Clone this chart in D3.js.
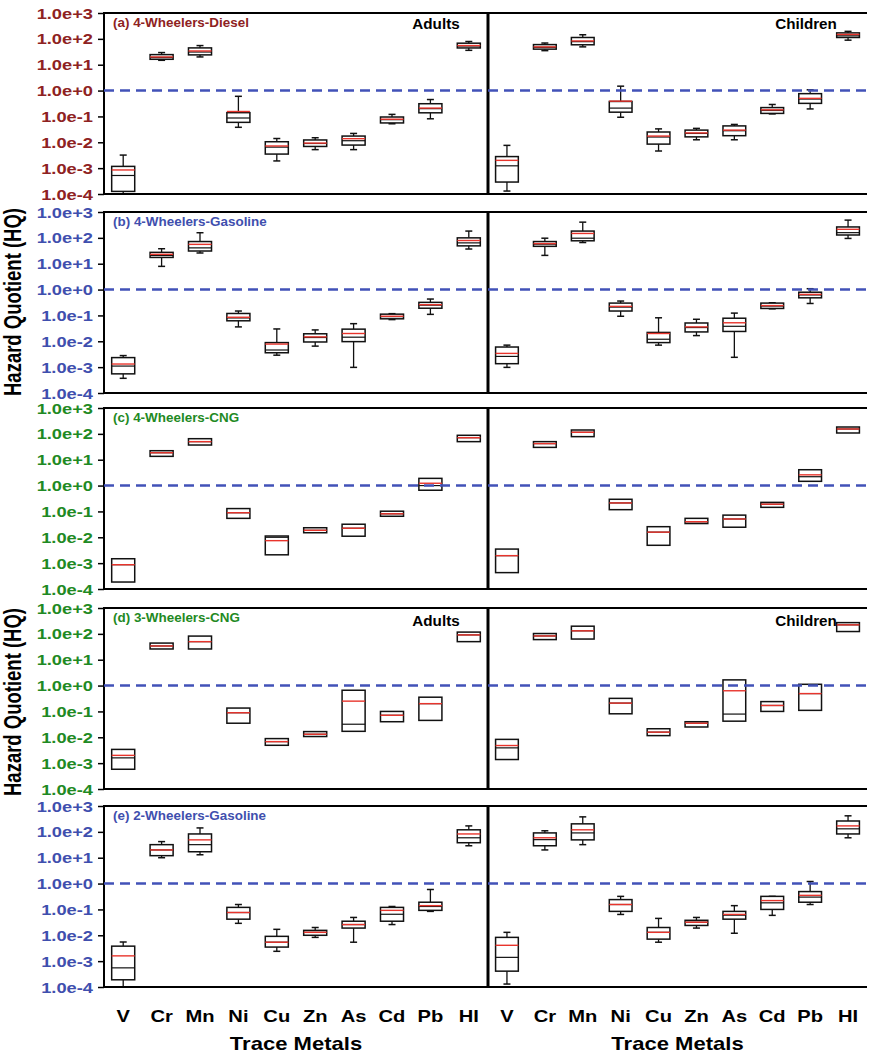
<!DOCTYPE html>
<html>
<head>
<meta charset="utf-8">
<script src="https://cdn.jsdelivr.net/npm/d3@7"></script>
<style>
  html, body { margin: 0; padding: 0; background: #fff; }
  svg { display: block; }
  text { font-family: "Liberation Sans", Arial, sans-serif; font-weight: bold; }
</style>
</head>
<body>
<svg id="chart" width="870" height="1056"></svg>
<script>
// Trace metals on the x axis
const metals = ["V", "Cr", "Mn", "Ni", "Cu", "Zn", "As", "Cd", "Pb", "HI"];

// Hazard quotient axis
const tickValues = [1e-4, 1e-3, 1e-2, 1e-1, 1e0, 1e1, 1e2, 1e3];
const tickLabels = ["1.0e-4", "1.0e-3", "1.0e-2", "1.0e-1", "1.0e+0", "1.0e+1", "1.0e+2", "1.0e+3"];
const safeLimit = 1;

// Panel titles
const panelTitles = [
  "(a) 4-Wheelers-Diesel",
  "(b) 4-Wheelers-Gasoline",
  "(c) 4-Wheelers-CNG",
  "(d) 3-Wheelers-CNG",
  "(e) 2-Wheelers-Gasoline"
];
const groupLabels = ["Adults", "Children"];

// Each row: [whisker low, Q1, median, Q3, whisker high, mean]; null = no whisker
const dieselAdults = [
  [1.0e-4, 1.26e-4, 5.2e-4, 1.17e-3, 3.2e-3, 8.5e-4],
  [14.8, 16.2, 19, 24.6, 29.5, 20],
  [20, 24, 31, 44.7, 55, 34],
  [0.038, 0.059, 0.087, 0.14, 0.6, 0.155],
  [0.0019, 0.0035, 0.0065, 0.0105, 0.014, 0.0072],
  [0.0052, 0.0069, 0.009, 0.0123, 0.015, 0.0093],
  [0.0052, 0.0078, 0.0115, 0.0174, 0.022, 0.0138],
  [0.052, 0.056, 0.075, 0.095, 0.12, 0.078],
  [0.081, 0.138, 0.2, 0.31, 0.45, 0.21],
  [36, 44.5, 53, 68, 79, 55]
];
const dieselChildren = [
  [1.3e-4, 2.9e-4, 1.23e-3, 2.8e-3, 7.6e-3, 2.0e-3],
  [35, 40, 47, 60, 69, 49],
  [49, 59, 78, 113, 144, 83],
  [0.093, 0.146, 0.21, 0.38, 1.48, 0.39],
  [0.0046, 0.0085, 0.016, 0.025, 0.033, 0.0174],
  [0.0125, 0.0162, 0.022, 0.0296, 0.0345, 0.023],
  [0.0125, 0.018, 0.028, 0.043, 0.049, 0.0296],
  [0.125, 0.131, 0.17, 0.22, 0.29, 0.18],
  [0.195, 0.32, 0.47, 0.76, 1.07, 0.50],
  [89, 113, 131, 170, 195, 148]
];
const gasolineAdults = [
  [3.7e-4, 5.5e-4, 1.1e-3, 2.34e-3, 2.8e-3, 1.32e-3],
  [7.9, 17.5, 21, 27.5, 38, 23],
  [26, 31, 41, 72, 158, 56],
  [0.036, 0.062, 0.08, 0.119, 0.148, 0.085],
  [0.0029, 0.0036, 0.0046, 0.0089, 0.030, 0.0078],
  [0.0065, 0.0094, 0.014, 0.0195, 0.0275, 0.0148],
  [9.8e-4, 0.0097, 0.0144, 0.0295, 0.048, 0.020],
  [0.069, 0.074, 0.09, 0.112, 0.117, 0.093],
  [0.11, 0.19, 0.25, 0.32, 0.43, 0.26],
  [37, 49, 64, 100, 183, 79]
];
const gasolineChildren = [
  [9.8e-4, 1.36e-3, 2.6e-3, 6.0e-3, 7.1e-3, 3.4e-3],
  [21, 47, 57, 72, 97, 60],
  [66, 77, 97, 183, 405, 148],
  [0.093, 0.148, 0.21, 0.30, 0.36, 0.224],
  [0.0071, 0.0089, 0.012, 0.022, 0.081, 0.020],
  [0.0166, 0.023, 0.034, 0.051, 0.071, 0.036],
  [0.0024, 0.024, 0.038, 0.078, 0.123, 0.052],
  [0.18, 0.186, 0.23, 0.30, 0.31, 0.24],
  [0.29, 0.48, 0.62, 0.79, 1.08, 0.65],
  [95, 129, 159, 264, 486, 214]
];
const cng4wAdults = [
  [null, 1.86e-4, 8.7e-4, 1.48e-3, null, 8.7e-4],
  [null, 13.5, 18.6, 22.3, null, 18.6],
  [null, 37, 50, 65, null, 50],
  [null, 0.054, 0.089, 0.129, null, 0.089],
  [null, 0.0021, 0.0100, 0.0112, null, 0.0074],
  [null, 0.015, 0.0186, 0.0234, null, 0.0186],
  [null, 0.011, 0.0224, 0.032, null, 0.0224],
  [null, 0.065, 0.081, 0.102, null, 0.081],
  [null, 0.66, 1.0, 1.9, null, 1.23],
  [null, 50, 71, 88, null, 71]
];
const cng4wChildren = [
  [null, 4.3e-4, 1.95e-3, 3.5e-3, null, 1.95e-3],
  [null, 30, 42, 50, null, 42],
  [null, 78, 115, 141, null, 115],
  [null, 0.117, 0.213, 0.295, null, 0.213],
  [null, 0.0049, 0.0158, 0.0257, null, 0.0158],
  [null, 0.034, 0.040, 0.054, null, 0.040],
  [null, 0.0245, 0.051, 0.072, null, 0.051],
  [null, 0.144, 0.19, 0.224, null, 0.19],
  [null, 1.46, 2.2, 4.1, null, 2.6],
  [null, 108, 154, 184, null, 154]
];
const cng3wAdults = [
  [null, 5.8e-4, 1.6e-3, 3.4e-3, null, 2.0e-3],
  [null, 26, 34, 44, null, 34],
  [null, 26, 50, 82, null, 50],
  [null, 0.035, 0.089, 0.135, null, 0.089],
  [null, 0.0049, 0.0068, 0.0089, null, 0.0068],
  [null, 0.0107, 0.0131, 0.0166, null, 0.0131],
  [null, 0.017, 0.032, 0.66, null, 0.25],
  [null, 0.040, 0.071, 0.1, null, 0.071],
  [null, 0.045, 0.20, 0.355, null, 0.20],
  [null, 50, 91, 117, null, 91]
];
const cng3wChildren = [
  [null, 1.38e-3, 3.9e-3, 8.3e-3, null, 4.8e-3],
  [null, 60, 83, 103, null, 83],
  [null, 63, 131, 198, null, 131],
  [null, 0.081, 0.21, 0.32, null, 0.21],
  [null, 0.0116, 0.0158, 0.0214, null, 0.0158],
  [null, 0.025, 0.035, 0.040, null, 0.035],
  [null, 0.042, 0.079, 1.66, null, 0.63],
  [null, 0.10, 0.17, 0.24, null, 0.17],
  [null, 0.11, 0.49, 1.12, null, 0.49],
  [null, 123, 223, 272, null, 223]
];
const twoWheelAdults = [
  [1.0e-4, 1.9e-4, 5.5e-4, 3.8e-3, 5.5e-3, 1.6e-3],
  [10, 12, 20, 32, 42, 20],
  [13, 17, 32, 83, 142, 49],
  [0.029, 0.042, 0.076, 0.12, 0.155, 0.076],
  [0.0024, 0.0035, 0.0054, 0.0091, 0.017, 0.0054],
  [0.0083, 0.01, 0.013, 0.0155, 0.020, 0.013],
  [0.0054, 0.019, 0.026, 0.035, 0.049, 0.026],
  [0.026, 0.035, 0.065, 0.12, 0.13, 0.092],
  [0.084, 0.092, 0.13, 0.19, 0.59, 0.14],
  [29, 38, 59, 120, 170, 83]
];
const twoWheelChildren = [
  [1.3e-4, 4.1e-4, 1.4e-3, 8.3e-3, 0.013, 4.1e-3],
  [20, 29, 50, 91, 110, 59],
  [32, 49, 91, 204, 380, 120],
  [0.064, 0.084, 0.155, 0.24, 0.32, 0.155],
  [0.0054, 0.0071, 0.013, 0.020, 0.045, 0.013],
  [0.019, 0.024, 0.032, 0.038, 0.049, 0.032],
  [0.012, 0.042, 0.06, 0.084, 0.14, 0.064],
  [0.059, 0.10, 0.18, 0.32, 0.32, 0.22],
  [0.155, 0.19, 0.3, 0.49, 1.2, 0.35],
  [59, 83, 131, 263, 417, 170]
];

const rows = [
  [dieselAdults, dieselChildren],
  [gasolineAdults, gasolineChildren],
  [cng4wAdults, cng4wChildren],
  [cng3wAdults, cng3wChildren],
  [twoWheelAdults, twoWheelChildren]
];

// ---- layout & style ----
const DARKRED = "#8e2222", BLUE = "#3f4fae", GREEN = "#1f8a24";
const rowColors = [DARKRED, BLUE, GREEN, GREEN, BLUE];
const rowTops = [13, 212, 408, 608, 806];
const rowH = 181;
const colX = [[104, 488], [488, 867]];
const showGroupLabels = [true, false, false, true, false];
const SX = 1.26; // horizontal text stretch

const svg = d3.select("#chart");

function stretchedText(g, x, y, str, size, anchor, color, sx) {
  return g.append("text")
    .attr("transform", `translate(${x},${y}) scale(${sx},1)`)
    .attr("text-anchor", anchor)
    .attr("font-size", size)
    .attr("fill", color)
    .text(str);
}

rows.forEach((pair, r) => {
  const top = rowTops[r];
  const y = d3.scaleLog().domain([1e-4, 1e3]).range([top + rowH, top]).clamp(true);

  pair.forEach((data, c) => {
    const [x0, x1] = colX[c];
    const x = d3.scaleBand().domain(metals).range([x0, x1]).paddingInner(0.4).paddingOuter(0.2);
    const g = svg.append("g");

    // boxes
    const bw = x.bandwidth();
    const items = g.selectAll("g.box").data(data.map((d, i) => ({ m: metals[i], v: d })))
      .join("g").attr("class", "box");

    items.each(function (d) {
      const s = d3.select(this);
      const cx = x(d.m) + bw / 2;
      const [lo, q1, med, q3, hi, mean] = d.v;
      if (hi !== null) {
        s.append("line").attr("x1", cx).attr("x2", cx).attr("y1", y(q3)).attr("y2", y(hi))
          .attr("stroke", "#111").attr("stroke-width", 1.3);
        s.append("line").attr("x1", cx - 3.5).attr("x2", cx + 3.5).attr("y1", y(hi)).attr("y2", y(hi))
          .attr("stroke", "#111").attr("stroke-width", 1.5);
      }
      if (lo !== null) {
        s.append("line").attr("x1", cx).attr("x2", cx).attr("y1", y(q1)).attr("y2", y(lo))
          .attr("stroke", "#111").attr("stroke-width", 1.3);
        s.append("line").attr("x1", cx - 3.5).attr("x2", cx + 3.5).attr("y1", y(lo)).attr("y2", y(lo))
          .attr("stroke", "#111").attr("stroke-width", 1.5);
      }
      s.append("rect").attr("x", x(d.m)).attr("width", bw)
        .attr("y", y(q3)).attr("height", Math.max(1, y(q1) - y(q3)))
        .attr("fill", "#fff").attr("stroke", "#111").attr("stroke-width", 1.5);
      s.append("line").attr("x1", x(d.m)).attr("x2", x(d.m) + bw).attr("y1", y(med)).attr("y2", y(med))
        .attr("stroke", "#111").attr("stroke-width", 1.2);
      s.append("line").attr("x1", x(d.m)).attr("x2", x(d.m) + bw).attr("y1", y(mean)).attr("y2", y(mean))
        .attr("stroke", "#e8342c").attr("stroke-width", 1.4);
    });

    // frame
    if (c === 0) {
      g.append("rect").attr("x", x0).attr("y", top).attr("width", x1 - x0).attr("height", rowH)
        .attr("fill", "none").attr("stroke", "#000").attr("stroke-width", 2);
      const ax = g.append("g").attr("transform", `translate(${x0},0)`)
        .call(d3.axisLeft(y).tickValues(tickValues).tickSize(6).tickSizeOuter(0)
          .tickFormat((v, i) => tickLabels[i]));
      ax.select(".domain").remove();
      ax.selectAll(".tick line").attr("stroke", "#000").attr("stroke-width", 1.5);
      ax.selectAll(".tick text")
        .attr("x", null).attr("dy", null)
        .attr("transform", `translate(-11,5) scale(${SX},1)`)
        .attr("font-size", 14.5).attr("font-weight", "bold")
        .attr("font-family", "'Liberation Sans', Arial, sans-serif")
        .attr("fill", rowColors[r]);
    } else {
      g.append("path").attr("d", `M${x0},${top}H${x1}M${x0},${top}V${top + rowH}H${x1}`)
        .attr("fill", "none").attr("stroke", "#000").attr("stroke-width", 2);
      g.append("line").attr("x1", x0).attr("x2", x0).attr("y1", top).attr("y2", top + rowH)
        .attr("stroke", "#000").attr("stroke-width", 3);
    }

    if (showGroupLabels[r]) {
      const lx = c === 0 ? 436 : 806;
      stretchedText(g, lx, top + (r === 0 ? 16 : 18), groupLabels[c], 14.5, "middle", "#000", 1.05);
    }
  });

  // safe threshold line
  svg.append("line").attr("x1", colX[0][0]).attr("x2", colX[1][1])
    .attr("y1", y(safeLimit)).attr("y2", y(safeLimit))
    .attr("stroke", "#4252b8").attr("stroke-width", 2.4).attr("stroke-dasharray", "10,6");

  // panel title
  stretchedText(svg, 113, top + 14, panelTitles[r], 12, "start", rowColors[r], 1.12);
});

// bottom x labels
colX.forEach(([x0, x1]) => {
  const x = d3.scaleBand().domain(metals).range([x0, x1]).paddingInner(0.4).paddingOuter(0.2);
  metals.forEach(m => {
    stretchedText(svg, x(m) + x.bandwidth() / 2, 1022, m, 16, "middle", "#000", SX);
  });
  stretchedText(svg, (x0 + x1) / 2, 1050, "Trace Metals", 17.5, "middle", "#000", SX);
});

// y axis titles
[302, 702].forEach(cy => {
  svg.append("text")
    .attr("transform", `translate(21,${cy}) scale(${SX},1) rotate(-90)`)
    .attr("text-anchor", "middle").attr("font-size", 18.5).attr("fill", "#000")
    .text("Hazard Quotient (HQ)");
});
</script>
</body>
</html>
